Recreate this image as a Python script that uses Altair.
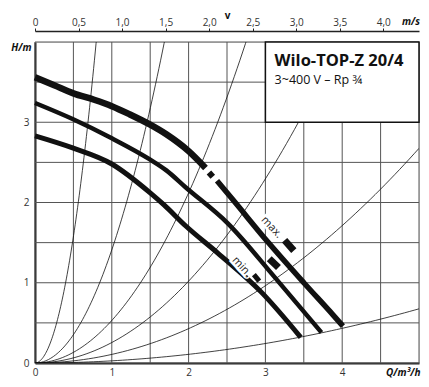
import altair as alt
import pandas as pd
import numpy as np

FONT = "Open Sans"

# ---- data ----
max_a_q = [0.0, 0.25, 0.5, 0.77, 1.0, 1.23, 1.5, 1.71, 2.0, 2.22]
max_a_h = [3.56, 3.46, 3.36, 3.28, 3.20, 3.10, 2.97, 2.85, 2.64, 2.43]
max_dot_q = [2.265, 2.315]
max_dot_h = [2.375, 2.32]
max_b_q = [2.37, 2.58, 3.03, 3.5, 3.88, 4.01]
max_b_h = [2.27, 2.03, 1.51, 1.0, 0.6, 0.46]
mid_q = [0.0, 0.49, 1.0, 1.49, 1.71, 1.96, 2.51, 3.12, 3.73]
mid_h = [3.24, 3.04, 2.80, 2.54, 2.40, 2.19, 1.74, 1.07, 0.38]
min_q = [0.0, 0.49, 1.0, 1.5, 1.68, 1.96, 2.38, 2.95, 3.46]
min_h = [2.83, 2.68, 2.48, 2.12, 1.97, 1.71, 1.37, 0.88, 0.32]

# system curves H = k * Q^2
system_k = [6.3, 1.41, 0.53, 0.255, 0.107, 0.027]

# label markers (short bars)
mark_q1 = [3.25, 3.05, 2.85]
mark_h1 = [1.53, 1.30, 1.10]
mark_q2 = [3.37, 3.17, 2.92]
mark_h2 = [1.40, 1.19, 1.02]
mark_w = [7, 7, 5]

label_text = ["max.", "min."]
label_q = [3.08, 2.69]
label_h = [1.69, 1.20]

box_q = [3, 5]
box_h = [3, 4]
title_text = ["Wilo-TOP-Z 20/4", "3~400 V \u2013 Rp \u00be"]

x_grid = [i * 0.5 for i in range(11)]
y_grid = [i * 0.5 for i in range(9)]
v_ticks = [i * 0.5 for i in range(9)]
V_MAX = 4.41

W, H = 384, 321

# ---- tables ----
rows = []
def add(qs, hs, seg, w):
    for q, h in zip(qs, hs):
        rows.append({"q": q, "h": h, "seg": seg, "w": w})
add(max_a_q, max_a_h, "max_a", 6.5)
add(max_dot_q, max_dot_h, "max_dot", 6)
add(max_b_q, max_b_h, "max_b", 5.5)
add(mid_q, mid_h, "mid", 4.5)
add(min_q, min_h, "min", 5)
curves = pd.DataFrame(rows)

sys_rows = []
for k in system_k:
    qend = min(5.0, np.sqrt(4.3 / k))
    for q in np.linspace(0, qend, 80):
        sys_rows.append({"q": q, "h": k * q * q, "k": str(k)})
sysdf = pd.DataFrame(sys_rows)

XS = alt.Scale(domain=[0, 5], nice=False, zero=False)
YS = alt.Scale(domain=[0, 4], nice=False, zero=False)
VS = alt.Scale(domain=[0, V_MAX], nice=False, zero=False)

x_axis = alt.Axis(
    values=x_grid, grid=False, ticks=False,
    domainColor="#222", domainWidth=2, labelFlush=False,
    labelExpr="datum.value % 1 == 0 && datum.value < 5 ? format(datum.value, 'd') : ''",
    labelFont=FONT, labelFontSize=10, labelColor="#333", labelPadding=4,
    title="Q/m\u00b3/h", titleX=W + 1, titleY=9, titleAlign="right", titleBaseline="middle",
    titleFont=FONT, titleFontSize=10, titleFontWeight="bold", titleFontStyle="italic",
    titleColor="#111",
)
y_axis = alt.Axis(
    values=y_grid, grid=False, ticks=False,
    domainColor="#222", domainWidth=2, labelFlush=False,
    labelExpr="datum.value % 1 == 0 && datum.value < 4 ? format(datum.value, 'd') : ''",
    labelFont=FONT, labelFontSize=10, labelColor="#333", labelPadding=6,
    title="H/m", titleX=-4, titleY=5, titleAlign="right", titleBaseline="middle",
    titleAngle=0, titleFont=FONT, titleFontSize=10, titleFontWeight="bold",
    titleFontStyle="italic", titleColor="#111",
)

gx = pd.DataFrame({"q": x_grid, "h0": [0.0] * len(x_grid), "h1": [4.0] * len(x_grid)})
gy = pd.DataFrame({"h": y_grid, "q0": [0.0] * len(y_grid), "q1": [5.0] * len(y_grid)})
grid_x = alt.Chart(gx).mark_rule(color="#555", strokeWidth=1).encode(
    x=alt.X("q:Q", scale=XS, axis=x_axis), y=alt.Y("h0:Q", scale=YS, axis=y_axis), y2="h1:Q")
grid_y = alt.Chart(gy).mark_rule(color="#555", strokeWidth=1).encode(
    y=alt.Y("h:Q", scale=YS), x=alt.X("q0:Q", scale=XS), x2="q1:Q")

sys_layer = alt.Chart(sysdf).mark_line(color="#111", strokeWidth=0.8, clip=True).encode(
    x=alt.X("q:Q", scale=XS),
    y=alt.Y("h:Q", scale=YS),
    detail="k:N",
)

box_layer = alt.Chart(pd.DataFrame({"q": [box_q[0]], "q2": [box_q[1]], "h": [box_h[0]], "h2": [box_h[1]]})).mark_rect(
    fill="white", stroke="#111", strokeWidth=1.5
).encode(x=alt.X("q:Q", scale=XS), x2="q2:Q", y=alt.Y("h:Q", scale=YS), y2="h2:Q")

title_df = pd.DataFrame({"t": title_text, "q": [3.12, 3.12], "h": [3.76, 3.53]})
title_big = alt.Chart(title_df.iloc[[0]]).mark_text(
    align="left", baseline="middle", font=FONT, fontSize=16.5, fontWeight="bold", color="#111"
).encode(x=alt.X("q:Q", scale=XS), y=alt.Y("h:Q", scale=YS), text="t:N")
title_small = alt.Chart(title_df.iloc[[1]]).mark_text(
    align="left", baseline="middle", font=FONT, fontSize=12.5, color="#111"
).encode(x=alt.X("q:Q", scale=XS), y=alt.Y("h:Q", scale=YS), text="t:N")

curve_layer = alt.Chart(curves).mark_line(color="#111", strokeCap="butt", interpolate="monotone").encode(
    x=alt.X("q:Q", scale=XS), y=alt.Y("h:Q", scale=YS), detail="seg:N",
    size=alt.Size("w:Q", scale=None, legend=None),
    order="q:Q",
)

labdf = pd.DataFrame({"t": label_text, "q": label_q, "h": label_h})
lab_halo = alt.Chart(labdf).mark_text(
    font=FONT, fontSize=11, angle=47, color="white", stroke="white", strokeWidth=5
).encode(x=alt.X("q:Q", scale=XS), y=alt.Y("h:Q", scale=YS), text="t:N")
lab = alt.Chart(labdf).mark_text(font=FONT, fontSize=11, angle=47, color="#222").encode(
    x=alt.X("q:Q", scale=XS), y=alt.Y("h:Q", scale=YS), text="t:N")

mkdf = pd.DataFrame({"q": mark_q1, "h": mark_h1, "q2": mark_q2, "h2": mark_h2, "w": mark_w})
mk = alt.Chart(mkdf).mark_rule(color="#111", strokeCap="butt").encode(
    x=alt.X("q:Q", scale=XS), y=alt.Y("h:Q", scale=YS), x2="q2:Q", y2="h2:Q",
    size=alt.Size("w:Q", scale=None, legend=None))

inner = alt.layer(grid_x, grid_y, sys_layer, box_layer, title_big, title_small,
                  curve_layer, lab_halo, lab, mk)

vdf = pd.DataFrame({"v": v_ticks, "h": [0.0] * len(v_ticks)})
top_points = alt.Chart(vdf).mark_point(opacity=0).encode(
    x=alt.X("v:Q", scale=VS,
            axis=alt.Axis(orient="top", values=v_ticks, offset=11, tickSize=3, tickColor="#222",
                          domainColor="#222", domainWidth=1.5, grid=False, labelFlush=False,
                          labelExpr="datum.value == 0 ? '0' : replace(format(datum.value, '.1f'), '.', ',')",
                          labelFont=FONT, labelFontSize=10, labelColor="#333", labelPadding=1,
                          title="v", titleX=W / 2, titleY=-16, titleAlign="center",
                          titleBaseline="middle", titleFont=FONT, titleFontSize=10,
                          titleFontWeight="bold", titleColor="#111")),
    y=alt.Y("h:Q", scale=YS),
)
unit_df = pd.DataFrame({"v": [V_MAX], "t": ["m/s"]})
unit_text = alt.Chart(unit_df).mark_text(
    align="right", baseline="middle", font=FONT, fontSize=10, fontWeight="bold",
    fontStyle="italic", color="#111", dx=1
).encode(x=alt.X("v:Q", scale=VS), y=alt.value(-20), text="t:N")
top_layer = alt.layer(top_points, unit_text)

chart = alt.layer(inner, top_layer).resolve_scale(x="independent").properties(
    width=W, height=H,
    autosize=alt.AutoSizeParams(type="none"),
    padding={"left": 27, "top": 34, "right": 2, "bottom": 16},
).configure_view(stroke="#111", strokeWidth=1.5).configure(background="white")

chart.save("out.html", embed_options={"renderer": "svg", "actions": False})
